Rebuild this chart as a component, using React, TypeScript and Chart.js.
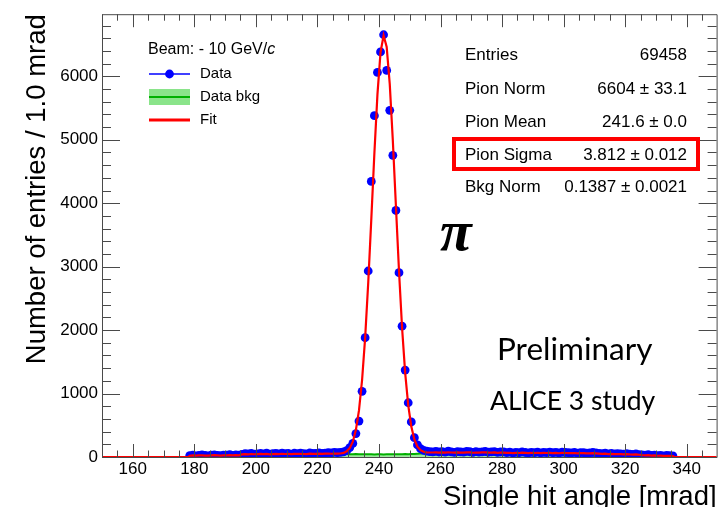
import React, { useEffect, useRef } from "react";
import { Chart, registerables } from "chart.js";

Chart.register(...registerables);

// ---- histogram definition ----
const histMin = 150;
const histMax = 350;
const xViewMax = 349.7;
const yViewMax = 6980;
const firstBinCenter = 178.5;
const binWidth = 1;

// Data counts per 1 mrad bin (178.5 ... 335.5)
const dataCounts: number[] = [
  22, 31, 18, 27, 35, 24, 19, 29, 33, 26, 21, 30, 28, 36, 25, 32, 29,
  41, 52, 47, 58, 44, 50, 55, 49, 61, 46, 53, 57, 48, 62, 51, 56, 45, 59, 54, 60,
  52, 48, 63, 57, 55, 66, 58, 61, 70, 64, 72,
  68, 74, 81, 99, 148, 214, 370, 567, 1036, 1880,
  2932, 4344, 5380, 6062, 6386, 6656, 6094, 5464, 4755, 3886,
  2906, 2063, 1370, 855, 552, 305, 190, 131, 104, 92, 86, 81,
  88, 79, 84, 76, 91, 82, 74, 86, 80, 77, 89, 83, 72, 85, 78, 81, 87, 75, 80, 84, 73, 79, 82,
  70, 76, 66, 73, 68, 79, 71, 64, 74, 69, 77, 65, 72, 70, 78, 67, 73, 63, 75, 71,
  69, 66, 74, 62, 70, 68, 60, 65, 71, 63,
  58, 52, 61, 49, 55, 47, 53, 50, 44, 51, 46, 42, 48, 39,
  33, 28, 36, 25, 30, 22, 27, 19, 24, 21, 17,
];

// Scaled background template ("Data bkg")
const bkgCounts: number[] = [
  20, 24, 21, 25, 27, 23, 22, 26, 28, 25, 23, 27, 26, 29, 25, 28, 27,
  40, 44, 42, 47, 43, 45, 48, 44, 50, 43, 46, 49, 45, 51, 47, 49, 44, 50, 48, 51,
  47, 45, 52, 49, 48, 54, 50, 52, 55, 51, 53,
  50, 48, 46, 47, 45, 44, 46, 43, 45, 42, 44, 43, 41, 42, 43, 41, 42, 44, 42, 43,
  45, 44, 46, 45, 47, 49, 52, 56, 60, 64, 67, 70,
  72, 70, 74, 69, 75, 71, 68, 73, 70, 69, 74, 72, 67, 71, 70, 72, 73, 68, 70, 72, 66, 69, 70,
  64, 67, 62, 65, 63, 68, 64, 60, 66, 63, 67, 61, 64, 63, 66, 62, 64, 59, 65, 63,
  61, 60, 63, 58, 61, 60, 56, 58, 60, 56,
  52, 48, 53, 46, 49, 44, 47, 45, 41, 44, 40, 38, 41, 35,
  29, 26, 30, 23, 26, 20, 23, 17, 20, 18, 14,
];

// Fit (pion gaussian + background) per bin
const fitCounts: number[] = [
  20, 24, 21, 25, 27, 23, 22, 26, 28, 25, 23, 27, 26, 29, 25, 28, 27,
  40, 44, 42, 47, 43, 45, 48, 44, 50, 43, 46, 49, 45, 51, 47, 49, 44, 50, 48, 51,
  47, 45, 52, 49, 48, 54, 50, 52, 55, 51, 53,
  53, 55, 64, 90, 140, 241, 428, 734, 1210, 1877,
  2743, 3746, 4785, 5716, 6378, 6643, 6464, 5877, 4986, 3956,
  2936, 2037, 1329, 816, 480, 276, 163, 107, 82, 73, 71, 71,
  72, 70, 74, 69, 75, 71, 68, 73, 70, 69, 74, 72, 67, 71, 70, 72, 73, 68, 70, 72, 66, 69, 70,
  64, 67, 62, 65, 63, 68, 64, 60, 66, 63, 67, 61, 64, 63, 66, 62, 64, 59, 65, 63,
  61, 60, 63, 58, 61, 60, 56, 58, 60, 56,
  52, 48, 53, 46, 49, 44, 47, 45, 41, 44, 40, 38, 41, 35,
  29, 26, 30, 23, 26, 20, 23, 17, 20, 18, 14,
];

const xTickValues = [160, 180, 200, 220, 240, 260, 280, 300, 320, 340];
const yTickValues = [0, 1000, 2000, 3000, 4000, 5000, 6000];
const xMinorStep = 5;
const yMinorStep = 200;

const xTitle = "Single hit angle [mrad]";
const yTitle = "Number of entries / 1.0 mrad";

const beamLabel = "Beam: - 10 GeV/";
const beamUnit = "c";
const legendLabels = ["Data", "Data bkg", "Fit"];

const statsLabels = ["Entries", "Pion Norm", "Pion Mean", "Pion Sigma", "Bkg Norm"];
const statsValues = ["69458", "6604 \u00b1 33.1", "241.6 \u00b1 0.0", "3.812 \u00b1 0.012", "0.1387 \u00b1 0.0021"];
const highlightedStat = "Pion Sigma";

const particleLabel = "\u03c0";
const prelimLabel = "Preliminary";
const studyLabel = "ALICE 3 study";

const SANS = '"Liberation Sans", Arial, Helvetica, sans-serif';

const rootDecor = {
  id: "rootDecor",
  afterDatasetsDraw(chart: any) {
    const { ctx, chartArea } = chart;
    const { left, right, top, bottom } = chartArea;
    const xs = chart.scales.x;
    const ys = chart.scales.y;
    ctx.save();
    ctx.strokeStyle = "#4a4a4a";
    ctx.lineWidth = 1;
    ctx.beginPath();
    ctx.rect(left + 0.5, top + 0.5, right - left, bottom - top);
    ctx.stroke();

    ctx.beginPath();
    const x0 = Math.ceil(xs.min / xMinorStep);
    const x1 = Math.floor(xs.max / xMinorStep);
    for (let k = x0; k <= x1; k++) {
      const v = k * xMinorStep;
      const px = Math.round(xs.getPixelForValue(v)) + 0.5;
      const len = xTickValues.includes(v) ? 13 : 6.5;
      ctx.moveTo(px, bottom);
      ctx.lineTo(px, bottom - len);
      ctx.moveTo(px, top);
      ctx.lineTo(px, top + len);
    }
    const y0 = Math.ceil(ys.min / yMinorStep);
    const y1 = Math.floor(ys.max / yMinorStep);
    for (let k = y0; k <= y1; k++) {
      const v = k * yMinorStep;
      const py = Math.round(ys.getPixelForValue(v)) + 0.5;
      const len = yTickValues.includes(v) ? 18 : 9;
      ctx.moveTo(left, py);
      ctx.lineTo(left + len, py);
      ctx.moveTo(right, py);
      ctx.lineTo(right - len, py);
    }
    ctx.stroke();
    ctx.restore();
  },
  afterDraw(chart: any) {
    const { ctx } = chart;
    ctx.save();
    ctx.fillStyle = "#000";
    ctx.textAlign = "left";
    ctx.textBaseline = "middle";

    // ---- legend ----
    ctx.font = `16px ${SANS}`;
    ctx.fillText(beamLabel, 148, 50);
    const bw = ctx.measureText(beamLabel).width;
    ctx.font = `italic 16px ${SANS}`;
    ctx.fillText(beamUnit, 148 + bw, 50);

    const lx0 = 149;
    const lx1 = 190;
    const rows = [74, 97, 120];
    ctx.strokeStyle = "#0000ff";
    ctx.lineWidth = 1.3;
    ctx.beginPath();
    ctx.moveTo(lx0, rows[0]);
    ctx.lineTo(lx1, rows[0]);
    ctx.stroke();
    ctx.fillStyle = "#0000ff";
    ctx.beginPath();
    ctx.arc((lx0 + lx1) / 2, rows[0], 4.4, 0, Math.PI * 2);
    ctx.fill();
    ctx.fillStyle = "rgba(60, 210, 60, 0.6)";
    ctx.fillRect(lx0, rows[1] - 8, lx1 - lx0, 16);
    ctx.strokeStyle = "#00b000";
    ctx.lineWidth = 2;
    ctx.beginPath();
    ctx.moveTo(lx0, rows[1]);
    ctx.lineTo(lx1, rows[1]);
    ctx.stroke();
    ctx.strokeStyle = "#ff0000";
    ctx.lineWidth = 3;
    ctx.beginPath();
    ctx.moveTo(lx0, rows[2]);
    ctx.lineTo(lx1, rows[2]);
    ctx.stroke();

    ctx.fillStyle = "#000";
    ctx.font = `15px ${SANS}`;
    legendLabels.forEach((lab, i) => ctx.fillText(lab, 200, rows[i]));

    // ---- stats box ----
    const sy = [55, 89.5, 122, 155, 187];
    ctx.font = `17px ${SANS}`;
    statsLabels.forEach((lab, i) => {
      ctx.textAlign = "left";
      ctx.fillText(lab, 465, sy[i]);
      ctx.textAlign = "right";
      ctx.fillText(statsValues[i], 687, sy[i]);
    });
    const hi = statsLabels.indexOf(highlightedStat);
    if (hi >= 0) {
      ctx.strokeStyle = "#ff0000";
      ctx.lineWidth = 4;
      ctx.strokeRect(454, sy[hi] - 16, 244, 30);
    }

    // ---- annotations ----
    ctx.textAlign = "left";
    ctx.textBaseline = "alphabetic";
    ctx.font = `bold italic 58px "Liberation Serif", "DejaVu Serif", serif`;
    ctx.fillText(particleLabel, 440, 250);
    ctx.font = `31.5px Lato, "Open Sans", sans-serif`;
    ctx.fillText(prelimLabel, 497, 360);
    ctx.font = `26.5px Lato, "Open Sans", sans-serif`;
    ctx.fillText(studyLabel, 490, 410);
    ctx.restore();
  },
};

export default function App() {
  const canvasRef = useRef<HTMLCanvasElement | null>(null);

  useEffect(() => {
    document.body.style.margin = "0";
    const canvas = canvasRef.current;
    if (!canvas) return;

    const centers = dataCounts.map((_, i) => firstBinCenter + i * binWidth);
    const firstEdge = firstBinCenter - binWidth / 2;
    const lastEdge = firstBinCenter + (dataCounts.length - 0.5) * binWidth;

    const dataPoints = centers.map((x, i) => ({ x, y: dataCounts[i] }));
    const bkgPoints = centers.map((x, i) => ({ x, y: bkgCounts[i] }));
    const fitPoints = [
      { x: histMin, y: 0 },
      { x: firstEdge, y: 0 },
      ...centers.map((x, i) => ({ x, y: fitCounts[i] })),
      { x: lastEdge, y: 0 },
      { x: histMax, y: 0 },
    ];

    const chart = new Chart(canvas, {
      type: "line",
      data: {
        datasets: [
          {
            label: legendLabels[2],
            data: fitPoints,
            borderColor: "#ff0000",
            borderWidth: 2.2,
            pointRadius: 0,
            tension: 0,
            fill: false,
            order: 0,
          },
          {
            label: legendLabels[0],
            data: dataPoints,
            showLine: false,
            pointRadius: 4.4,
            pointBackgroundColor: "#0000ff",
            pointBorderColor: "#0000ff",
            pointBorderWidth: 0,
            borderColor: "#0000ff",
            order: 1,
          },
          {
            label: legendLabels[1],
            data: bkgPoints,
            borderColor: "#00b000",
            borderWidth: 2,
            backgroundColor: "rgba(60, 210, 60, 0.5)",
            fill: "origin",
            pointRadius: 0,
            tension: 0,
            order: 2,
          },
        ],
      },
      options: {
        responsive: false,
        animation: false,
        events: [],
        devicePixelRatio: 1,
        layout: { padding: { top: 10.5, right: 0, left: 0, bottom: 0 } },
        plugins: {
          legend: { display: false },
          tooltip: { enabled: false },
        },
        scales: {
          x: {
            type: "linear",
            min: histMin,
            max: xViewMax,
            grid: { display: false, drawTicks: false },
            border: { display: false },
            afterBuildTicks: (s: any) => {
              s.ticks = xTickValues.map((value) => ({ value }));
            },
            ticks: {
              autoSkip: false,
              maxRotation: 0,
              padding: 2,
              color: "#000",
              font: { family: SANS, size: 17 },
              callback: (v: any) => String(Math.round(Number(v))),
            },
            title: {
              display: true,
              text: xTitle,
              align: "end",
              color: "#000",
              font: { family: SANS, size: 27.5, lineHeight: 0.7 },
              padding: 0,
            },
            afterFit: (s: any) => {
              s.height = 50;
            },
          },
          y: {
            type: "linear",
            min: 0,
            max: yViewMax,
            grid: { display: false, drawTicks: false },
            border: { display: false },
            afterBuildTicks: (s: any) => {
              s.ticks = yTickValues.map((value) => ({ value }));
            },
            ticks: {
              autoSkip: false,
              padding: 4,
              color: "#000",
              font: { family: SANS, size: 17 },
              callback: (v: any) => String(Math.round(Number(v))),
            },
            title: {
              display: true,
              text: yTitle,
              align: "end",
              color: "#000",
              font: { family: SANS, size: 27.5, lineHeight: 1.2 },
              padding: { top: 21, bottom: 0 },
            },
            afterFit: (s: any) => {
              s.width = 102;
            },
          },
        },
      },
      plugins: [rootDecor],
    });

    return () => chart.destroy();
  }, []);

  return (
    <div style={{ position: "fixed", left: 0, top: 0, width: 721, height: 507, background: "#fff" }}>
      <canvas ref={canvasRef} width={721} height={507} style={{ display: "block", width: 721, height: 507 }} />
    </div>
  );
}
